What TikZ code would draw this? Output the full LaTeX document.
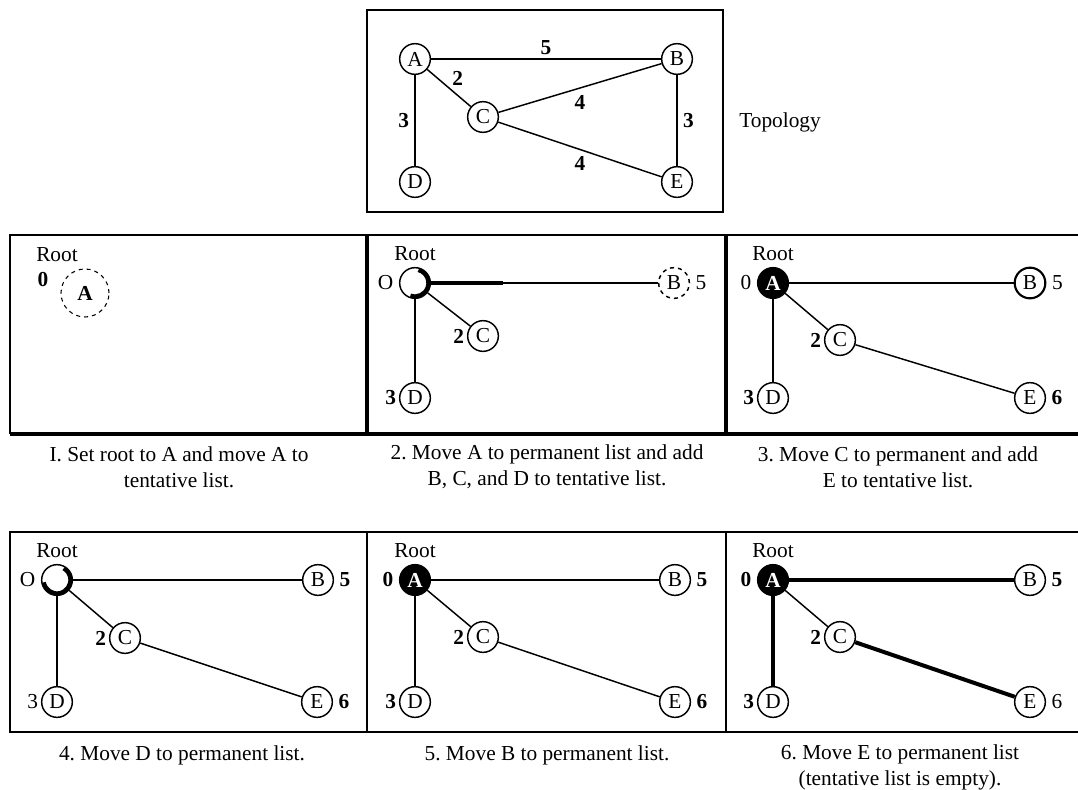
\documentclass[tikz,border=0pt]{standalone}
\usepackage{fontspec}
\setmainfont{Liberation Serif}
\usetikzlibrary{positioning}
\frenchspacing

\begin{document}
\begin{tikzpicture}[
    x=0.75pt, y=-0.75pt,
    font=\fontsize{16}{19.5}\selectfont,
    vtx/.style={circle, draw, line width=1.1pt, fill=white, inner sep=0pt, minimum size=23pt},
    donevtx/.style={vtx, fill=black, text=white, font=\fontsize{16}{19.5}\selectfont\bfseries},
    dist/.style={inner sep=1pt},
    bdist/.style={dist, font=\fontsize{16}{19.5}\selectfont\bfseries},
    link/.style={line width=1.1pt},
    tree/.style={line width=3pt},
    half/.style={line width=3pt},
    frame/.style={line width=0.8pt},
    divider/.style={line width=2.6pt},
    caption/.style={align=center}
  ]
  \useasboundingbox (0,0) rectangle (1078,789);

  % topology
  \draw[frame] (367,10) rectangle (723,212);
  \node[vtx] (tA) at (415,59) {A};
  \node[vtx] (tB) at (677,59) {B};
  \node[vtx] (tC) at (483,117) {C};
  \node[vtx] (tD) at (415,182) {D};
  \node[vtx] (tE) at (677,182) {E};
  \draw[link] (tA) -- node[bdist, above=2pt] {5} (tB);
  \draw[link] (tA) -- node[bdist, above right=0pt and 1pt] {2} (tC);
  \draw[link] (tA) -- node[bdist, left=3pt] {3} (tD);
  \draw[link] (tC) -- node[bdist, below=4pt] {4} (tB);
  \draw[link] (tB) -- node[bdist, right=3pt] {3} (tE);
  \draw[link] (tC) -- node[bdist, below=4pt] {4} (tE);
  \node (topo) at (780,122) {Topology};

  % frames
  \draw[frame] (10,434) -- (10,235) -- (1078,235);
  \draw[divider] (367,235) -- (367,434);
  \draw[divider] (726,235) -- (726,434);
  \draw[divider] (10,434) -- (1078,434);
  \draw[frame] (10,532) rectangle (1090,732);
  \draw[frame] (367,532) -- (367,732);
  \draw[frame] (726,532) -- (726,732);

  % 1
  \node (root1) at (57,255) {Root};
  \node[vtx, dashed, line width=0.8pt, minimum size=36pt, font=\fontsize{16}{19.5}\selectfont\bfseries] (A1) at (85,293) {A};
  \node[bdist] (d1) at (43,280) {0};

  % 2
  \begin{scope}[shift={(415,283)}]
    \node[vtx] (A2) at (0,0) {};
    \node[vtx, dashed] (B2) at (259,0) {B};
    \node[vtx] (C2) at (68,53) {C};
    \node[vtx] (D2) at (0,115) {D};
    \coordinate (h2) at (88,0);
    \draw[half] (A2.center) ++(-110:10pt) arc[start angle=-110, end angle=75, radius=10pt];
    \node[above=1pt of A2] (root2) {Root};
    \node[dist, left=3pt of A2] {O};
    \node[dist, right=3pt of B2] {5};
    \node[bdist, left=1pt of C2] {2};
    \node[bdist, left=1pt of D2] {3};
    \draw[link] (A2) -- (B2);
    \draw[line width=2.6pt] (A2) -- (h2);
    \draw[link] (A2) -- (C2);
    \draw[link] (A2) -- (D2);
  \end{scope}

  % 3
  \begin{scope}[shift={(773,283)}]
    \node[donevtx] (A3) at (0,0) {A};
    \node[vtx, line width=1.6pt] (B3) at (257,0) {B};
    \node[vtx] (C3) at (67,57) {C};
    \node[vtx] (D3) at (0,115) {D};
    \node[vtx] (E3) at (257,115) {E};
    \node[above=1pt of A3] (root3) {Root};
    \node[dist, left=3pt of A3] {0};
    \node[dist, right=3pt of B3] {5};
    \node[bdist, left=1pt of C3] {2};
    \node[bdist, left=1pt of D3] {3};
    \node[bdist, right=3pt of E3] {6};
    \draw[line width=1.8pt] (A3) -- (B3);
    \draw[link] (A3) -- (C3);
    \draw[link] (A3) -- (D3);
    \draw[link] (C3) -- (E3);
  \end{scope}

  % 4
  \begin{scope}[shift={(57,580)}]
    \node[vtx] (A4) at (0,0) {};
    \node[vtx] (B4) at (261,0) {B};
    \node[vtx] (C4) at (68,58) {C};
    \node[vtx] (D4) at (0,122) {D};
    \node[vtx] (E4) at (260,122) {E};
    \draw[half] (A4.center) ++(190:10pt) arc[start angle=190, end angle=420, radius=10pt];
    \node[above=1pt of A4] (root4) {Root};
    \node[dist, left=3pt of A4] {O};
    \node[bdist, right=3pt of B4] {5};
    \node[bdist, left=1pt of C4] {2};
    \node[dist, left=1pt of D4] {3};
    \node[bdist, right=3pt of E4] {6};
    \draw[line width=1.8pt] (A4) -- (B4);
    \draw[link] (A4) -- (C4);
    \draw[link] (A4) -- (D4);
    \draw[link] (C4) -- (E4);
  \end{scope}

  % 5
  \begin{scope}[shift={(415,580)}]
    \node[donevtx] (A5) at (0,0) {A};
    \node[vtx] (B5) at (260,0) {B};
    \node[vtx] (C5) at (68,57) {C};
    \node[vtx] (D5) at (0,122) {D};
    \node[vtx] (E5) at (260,122) {E};
    \node[above=1pt of A5] (root5) {Root};
    \node[bdist, left=3pt of A5] {0};
    \node[bdist, right=3pt of B5] {5};
    \node[bdist, left=1pt of C5] {2};
    \node[bdist, left=1pt of D5] {3};
    \node[bdist, right=3pt of E5] {6};
    \draw[line width=1.6pt] (A5) -- (B5);
    \draw[link] (A5) -- (C5);
    \draw[link] (A5) -- (D5);
    \draw[link] (C5) -- (E5);
  \end{scope}

  % 6
  \begin{scope}[shift={(773,580)}]
    \node[donevtx] (A6) at (0,0) {A};
    \node[vtx] (B6) at (257,0) {B};
    \node[vtx] (C6) at (67,57) {C};
    \node[vtx] (D6) at (0,122) {D};
    \node[vtx] (E6) at (257,122) {E};
    \node[above=1pt of A6] (root6) {Root};
    \node[bdist, left=3pt of A6] {0};
    \node[bdist, right=3pt of B6] {5};
    \node[bdist, left=1pt of C6] {2};
    \node[bdist, left=1pt of D6] {3};
    \node[dist, right=3pt of E6] {6};
    \draw[tree] (A6) -- (B6);
    \draw[link] (A6) -- (C6);
    \draw[tree] (A6) -- (D6);
    \draw[tree] (C6) -- (E6);
  \end{scope}

  % captions
  \node[caption] (cap1) at (179,467) {I. Set root to A and move A to\\tentative list.};
  \node[caption] (cap2) at (547,467) {2. Move A to permanent list and add\\B, C, and D to tentative list.};
  \node[caption] (cap3) at (898,467) {3. Move C to permanent and add\\E to tentative list.};
  \node[caption] (cap4) at (182,755) {4. Move D to permanent list.};
  \node[caption] (cap5) at (547,755) {5. Move B to permanent list.};
  \node[caption] (cap6) at (900,767) {6. Move E to permanent list\\(tentative list is empty).};
\end{tikzpicture}
\end{document}
